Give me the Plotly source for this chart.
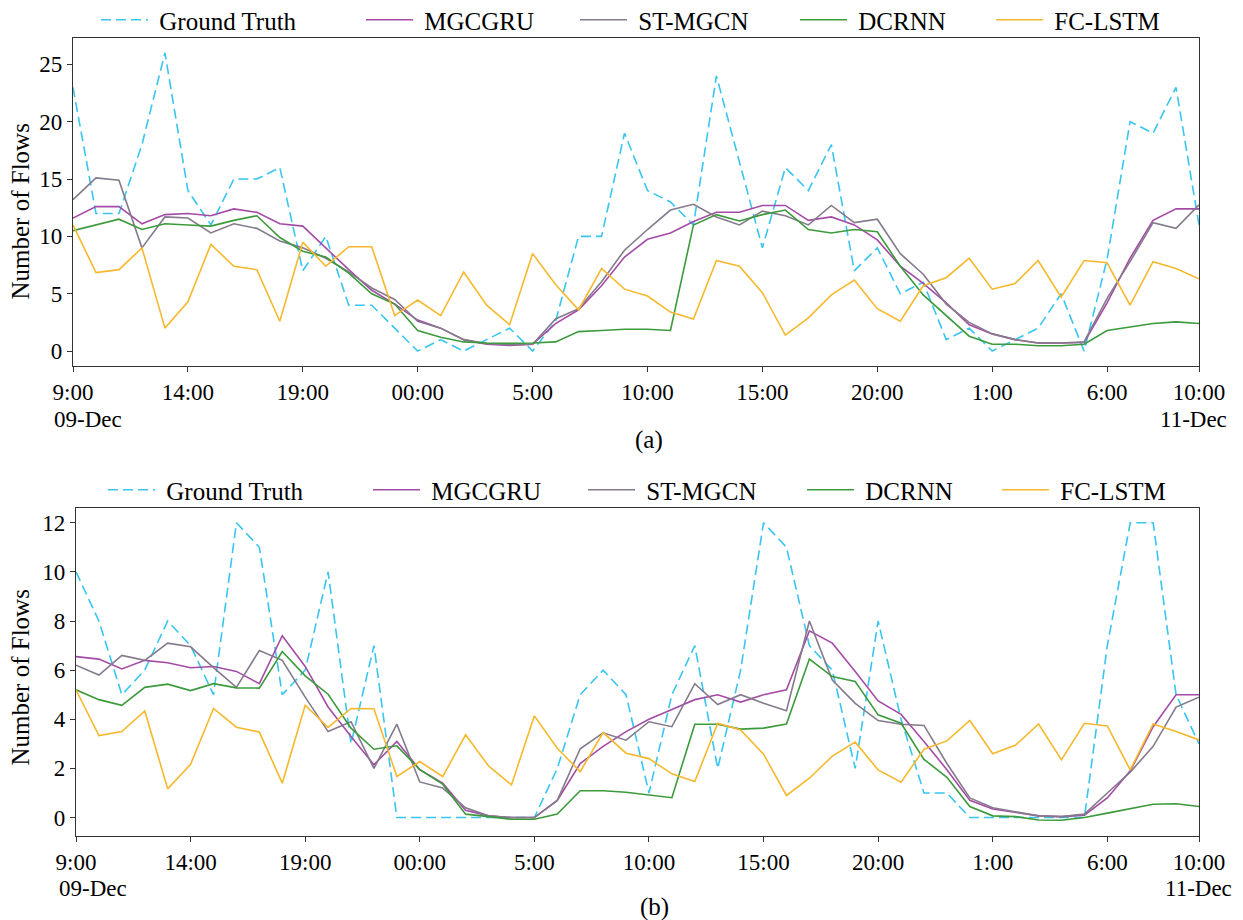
import plotly.graph_objects as go

# ---------------- data ----------------
hours = list(range(50))
tick_vals = [0, 5, 10, 15, 20, 25, 30, 35, 40, 45, 49]
tick_text = ["9:00", "14:00", "19:00", "00:00", "5:00", "10:00", "15:00",
             "20:00", "1:00", "6:00", "10:00"]
start_date = "09-Dec"
end_date = "11-Dec"
series_names = ["Ground Truth", "MGCGRU", "ST-MGCN", "DCRNN", "FC-LSTM"]

# panel (a)
gt_a = [23, 12, 12, 18, 26, 14, 11, 15, 15, 16, 7, 10, 4, 4, 2,
        0, 1, 0, 1, 2, 0,
        2.6, 10, 10, 19, 14, 13, 11, 24, 16.5, 9, 16, 14,
        18, 7, 9, 5, 6, 1, 2, 0, 1, 2, 5, 0, 8, 20, 19, 23, 11]
mg_a = [11.6, 12.6, 12.6, 11.1, 11.9, 12.0, 11.8, 12.4, 12.1, 11.1, 10.9, 9.0, 7.1, 5.3, 4.1,
        2.7, 2.0, 1.0, 0.6, 0.5, 0.6,
        2.4, 3.6, 5.7, 8.2, 9.75, 10.3, 11.3, 12.1, 12.1, 12.7, 12.7, 11.4,
        11.7, 11.0, 9.7, 7.4, 5.9, 4.2, 2.3, 1.5, 1.0, 0.7, 0.7, 0.75, 4.2, 8.1, 11.4, 12.4, 12.4]
st_a = [13.2, 15.1, 14.9, 9.0, 11.7, 11.6, 10.3, 11.1, 10.7, 9.6, 9.0, 8.1, 6.9, 5.5, 4.5,
        2.6, 2.0, 1.0, 0.65, 0.55, 0.6,
        2.8, 3.7, 6.05, 8.8, 10.6, 12.3, 12.8, 11.7, 11.0, 12.2, 11.8, 11.0,
        12.7, 11.2, 11.5, 8.5, 6.7, 4.1, 2.5, 1.5, 1.0, 0.7, 0.7, 0.8, 4.6, 7.8, 11.2, 10.7, 12.75]
dc_a = [10.5, 11.0, 11.5, 10.6, 11.1, 11.0, 10.9, 11.4, 11.8, 9.9, 8.7, 8.2, 6.8, 5.0, 4.1,
        1.8, 1.2, 0.8, 0.7, 0.67, 0.7,
        0.8, 1.7, 1.8, 1.9, 1.9, 1.8, 11.0, 11.9, 11.35, 11.9, 12.3, 10.6,
        10.3, 10.6, 10.4, 7.4, 4.9, 3.1, 1.3, 0.6, 0.6, 0.47, 0.47, 0.6, 1.8, 2.1, 2.4, 2.55, 2.4]
fc_a = [11.0, 6.85, 7.1, 9.0, 2.0, 4.3, 9.3, 7.4, 7.1, 2.6, 9.5, 7.4, 9.1, 9.1, 3.1,
        4.45, 3.1, 6.9, 4.0, 2.3, 8.5,
        5.8, 3.6, 7.2, 5.4, 4.8, 3.4, 2.8, 7.9, 7.4, 5.1, 1.4, 2.9,
        4.9, 6.2, 3.7, 2.6, 5.7, 6.4, 8.1, 5.4, 5.9, 7.9, 4.7, 7.9, 7.7, 4.0, 7.8, 7.2, 6.3]

# panel (b)
gt_b = [10, 8, 5, 6, 8, 7, 5, 12, 11, 5, 6, 10, 3, 7, 0,
        0, 0, 0, 0, 0, 0,
        2, 5, 6, 5, 1, 5, 7, 2, 6, 12, 11, 7,
        6, 2, 8, 4, 1, 1, 0, 0, 0, 0, 0, 0, 7, 12, 12, 5, 3]
mg_b = [6.55, 6.45, 6.05, 6.4, 6.3, 6.1, 6.15, 5.95, 5.45, 7.4, 6.15, 4.5, 3.3, 2.15, 3.1,
        1.95, 1.4, 0.3, 0.07, 0.0, 0.0,
        0.7, 2.2, 2.9, 3.5, 4.0, 4.4, 4.8, 5.0, 4.7, 5.0, 5.2, 7.6,
        7.1, 5.95, 4.75, 4.2, 3.1, 1.95, 0.7, 0.35, 0.2, 0.07, 0.04, 0.1, 0.8, 1.9, 3.7, 5.0, 5.0]
st_b = [6.2, 5.8, 6.6, 6.4, 7.1, 6.95, 6.1, 5.3, 6.8, 6.4, 4.9, 3.5, 3.9, 2.0, 3.8,
        1.45, 1.2, 0.4, 0.07, 0.0, 0.0,
        0.7, 2.8, 3.45, 3.15, 3.9, 3.7, 5.45, 4.6, 5.0, 4.65, 4.35, 8.0,
        5.6, 4.65, 3.95, 3.8, 3.75, 2.2, 0.8, 0.4, 0.25, 0.07, 0.04, 0.14, 1.0, 1.85, 2.9, 4.5, 4.9]
dc_b = [5.2, 4.8, 4.57, 5.3, 5.43, 5.17, 5.45, 5.28, 5.27, 6.76, 5.77, 5.02, 3.64, 2.78, 2.92,
        1.95, 1.36, 0.14, 0.04, -0.07, -0.07,
        0.14, 1.09, 1.09, 1.03, 0.92, 0.81, 3.8, 3.8, 3.6, 3.64, 3.81, 6.45,
        5.74, 5.54, 4.18, 3.84, 2.37, 1.64, 0.45, 0.07, 0.04, -0.1, -0.11, 0.0, 0.18, 0.35, 0.54, 0.56, 0.45]
fc_b = [5.2, 3.34, 3.5, 4.34, 1.17, 2.17, 4.44, 3.68, 3.48, 1.4, 4.57, 3.67, 4.44, 4.43, 1.67,
        2.28, 1.67, 3.37, 2.1, 1.33, 4.14,
        2.82, 1.87, 3.46, 2.62, 2.4, 1.78, 1.47, 3.84, 3.57, 2.58, 0.9, 1.6,
        2.5, 3.07, 1.94, 1.44, 2.78, 3.12, 3.95, 2.6, 2.95, 3.81, 2.35, 3.84, 3.73, 1.94, 3.81, 3.5, 3.16]

# ---------------- style ----------------
W, H = 1243, 920
FONT = "Liberation Serif"
FS = 23        # tick labels / dates
FS_TXT = 25    # legend, axis title, captions
colors = ["#38C5F0", "#A44BA6", "#857A8C", "#3C9A3C", "#F6B82C"]
dashes = ["10px,5px", "solid", "solid", "solid", "solid"]

def px_x(p):
    return p / W

def px_y(p):
    return 1 - p / H

fig = go.Figure()

panels = [
    dict(data=[gt_a, mg_a, st_a, dc_a, fc_a], xa="x", ya="y",
         leg_x=[101, 366, 580, 800, 996], leg_y=20),
    dict(data=[gt_b, mg_b, st_b, dc_b, fc_b], xa="x2", ya="y2",
         leg_x=[108, 373, 588, 807, 1002], leg_y=490),
]

legend_layouts = {}
idx = 0
for p in panels:
    for k, (name, vals) in enumerate(zip(series_names, p["data"])):
        lname = "legend" if idx == 0 else f"legend{idx + 1}"
        fig.add_trace(go.Scatter(
            x=hours, y=vals, mode="lines", name="\u00a0" + name,
            line=dict(color=colors[k], width=1.6, dash=dashes[k]),
            xaxis=p["xa"], yaxis=p["ya"], legend=lname, showlegend=True,
        ))
        legend_layouts[lname] = dict(
            x=px_x(p["leg_x"][k] - 5), y=px_y(p["leg_y"]),
            xanchor="left", yanchor="middle",
            bgcolor="rgba(0,0,0,0)", borderwidth=0,
            font=dict(family=FONT, size=FS_TXT, color="black"),
            itemwidth=47, tracegroupgap=0,
        )
        idx += 1

axis_common = dict(
    showline=True, linecolor="#333333", linewidth=1.3, mirror=True,
    ticks="outside", ticklen=5, tickwidth=1.1, tickcolor="#333333",
    showgrid=False, zeroline=False, automargin=False,
    tickfont=dict(family=FONT, size=FS, color="black"),
)

fig.update_layout(
    width=W, height=H, autosize=False,
    margin=dict(l=0, r=0, t=0, b=0, pad=0, autoexpand=False),
    paper_bgcolor="white", plot_bgcolor="white",
    font=dict(family=FONT, size=FS, color="black"),
    xaxis=dict(domain=[px_x(73), px_x(1199)], range=[0, 49], anchor="y",
               tickmode="array", tickvals=tick_vals, ticktext=tick_text, **axis_common),
    yaxis=dict(domain=[px_y(366), px_y(38)], range=[-1.3, 27.3], anchor="x",
               tickmode="array", tickvals=[0, 5, 10, 15, 20, 25], **axis_common),
    xaxis2=dict(domain=[px_x(76), px_x(1199)], range=[0, 49], anchor="y2",
                tickmode="array", tickvals=tick_vals, ticktext=tick_text, **axis_common),
    yaxis2=dict(domain=[px_y(836), px_y(508)], range=[-0.75, 12.6], anchor="x2",
                tickmode="array", tickvals=[0, 2, 4, 6, 8, 10, 12], **axis_common),
    **legend_layouts,
)

txt_font = dict(family=FONT, size=FS_TXT, color="black")
tick_font = dict(family=FONT, size=FS, color="black")
annotations = [
    dict(text="Number of Flows", x=px_x(19.5), y=px_y(212), textangle=-90, font=txt_font),
    dict(text="Number of Flows", x=px_x(19.5), y=px_y(678), textangle=-90, font=txt_font),
    dict(text="(a)", x=px_x(649), y=px_y(440), font=txt_font),
    dict(text="(b)", x=px_x(654), y=px_y(907), font=txt_font),
    dict(text=start_date, x=px_x(52), y=px_y(419), xanchor="left", font=tick_font),
    dict(text=end_date, x=px_x(1229), y=px_y(419), xanchor="right", font=tick_font),
    dict(text=start_date, x=px_x(57), y=px_y(888), xanchor="left", font=tick_font),
    dict(text=end_date, x=px_x(1234), y=px_y(888), xanchor="right", font=tick_font),
]
for a in annotations:
    a.setdefault("xanchor", "center")
    fig.add_annotation(xref="paper", yref="paper", yanchor="middle",
                       showarrow=False, **a)

fig.write_html("out.html", config={"displayModeBar": False},
               post_script="document.body.style.margin='0px';")
